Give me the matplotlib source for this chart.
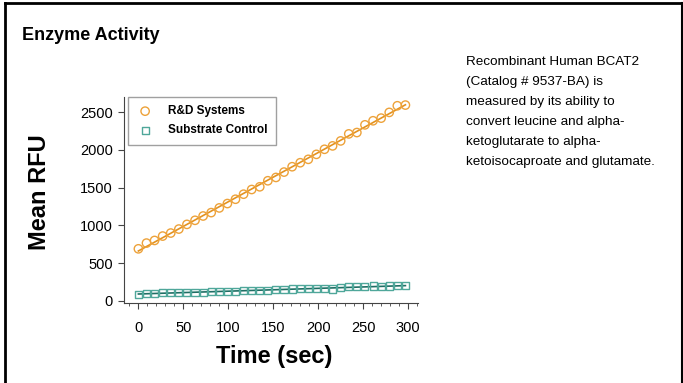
import numpy as np
import matplotlib
matplotlib.use("Agg")
import matplotlib.pyplot as plt
from matplotlib.ticker import MultipleLocator
from matplotlib.lines import Line2D

# ---- data ----
time_sec = [0, 9, 18, 27, 36, 45, 54, 63, 72, 81, 90, 99, 108, 117, 126, 135, 144,
            153, 162, 171, 180, 189, 198, 207, 216, 225, 234, 243, 252, 261, 270,
            279, 288, 297]
rd_systems = [688, 764, 799, 857, 897, 950, 1012, 1066, 1123, 1168, 1230, 1288, 1345,
              1412, 1474, 1510, 1590, 1634, 1705, 1776, 1829, 1874, 1940, 2007, 2052,
              2118, 2211, 2229, 2331, 2385, 2420, 2496, 2584, 2593]
substrate_control = [85, 100, 95, 105, 105, 105, 115, 110, 115, 120, 120, 125, 125, 135,
                     135, 140, 140, 145, 150, 155, 160, 160, 160, 160, 155, 170, 185, 185,
                     190, 195, 185, 195, 200, 200]
series_labels = ["R&D Systems", "Substrate Control"]
x_ticks = [0, 50, 100, 150, 200, 250, 300]
y_ticks = [0, 500, 1000, 1500, 2000, 2500]
title = "Enzyme Activity"
x_label = "Time (sec)"
y_label = "Mean RFU"
description = ["Recombinant Human BCAT2", "(Catalog # 9537-BA) is",
               "measured by its ability to", "convert leucine and alpha-",
               "ketoglutarate to alpha-", "ketoisocaproate and glutamate."]

ORANGE_M = "#EDA23A"
ORANGE_L = "#E3921F"
TEAL_M = "#4FA79A"
TEAL_L = "#1F6E64"

plt.rcParams['font.family'] = ['Liberation Sans', 'DejaVu Sans']

fig = plt.figure(figsize=(6.83, 3.83), dpi=100)
W, H = 683, 383

# frame border
fig.add_artist(Line2D([5/W, 5/W], [0, 1 - 3/H], color="black", lw=2, transform=fig.transFigure))
fig.add_artist(Line2D([5/W, 1], [1 - 3/H, 1 - 3/H], color="black", lw=2, transform=fig.transFigure))
fig.add_artist(Line2D([1 - 1/W, 1 - 1/W], [0, 1 - 3/H], color="black", lw=1.5, transform=fig.transFigure))

fig.text(22/W, 1 - 35/H, title, fontsize=13, fontweight="bold", va="center", ha="left")

y0 = 62
for i, line in enumerate(description):
    fig.text(466/W, 1 - (y0 + 20*i)/H, line, fontsize=9.7, va="center", ha="left")

# axes: left spine at x=124, right end at 418; bottom at y=303, top at 97
ax = fig.add_axes([124/W, 1 - 303/H, (418-124)/W, (303-97)/H])
ax.set_xlim(-16, 311)
ax.set_ylim(-30, 2700)

t = np.array(time_sec, dtype=float)
for vals, mcol, lcol, mk, lab in [(rd_systems, ORANGE_M, ORANGE_L, "o", series_labels[0]),
                                  (substrate_control, TEAL_M, TEAL_L, "s", series_labels[1])]:
    v = np.array(vals, dtype=float)
    k, b = np.polyfit(t, v, 1)
    ax.plot([t[0], t[-1]], [k*t[0] + b, k*t[-1] + b], color=lcol, lw=1.2, zorder=2)
    ax.scatter(t, v, marker=mk, s=36 if mk == "o" else 26, facecolors="none",
               edgecolors=mcol, linewidths=1.0, zorder=3, label=lab)

for s in ["top", "right"]:
    ax.spines[s].set_visible(False)
for s in ["left", "bottom"]:
    ax.spines[s].set_color("#444444")
    ax.spines[s].set_linewidth(0.8)

ax.set_xticks(x_ticks)
ax.set_yticks(y_ticks)
ax.xaxis.set_minor_locator(MultipleLocator(10))
ax.tick_params(axis="both", which="major", length=4, width=0.8, color="#444444",
               labelsize=10.5)
ax.tick_params(axis="x", which="major", pad=9)
ax.tick_params(axis="y", which="major", pad=4)
ax.tick_params(axis="x", which="minor", length=2, width=0.6, color="#444444")

fig.text(216/W, 1 - 356/H, x_label, fontsize=17, fontweight="bold", ha="left", va="center")
fig.text(40/W, 1 - 192/H, y_label, fontsize=17, fontweight="bold", rotation=90,
         ha="center", va="center")

leg = ax.legend(loc="upper left", bbox_to_anchor=(4/294, 1.0), borderaxespad=0,
                frameon=True, fancybox=False,
                prop={"size": 8.5, "weight": "bold"}, handletextpad=1.2, borderpad=0.7,
                labelspacing=0.6, handlelength=1.5, scatterpoints=1)
leg.get_frame().set_edgecolor("#888888")
leg.get_frame().set_linewidth(1.0)

fig.savefig("out.png", dpi=100)
